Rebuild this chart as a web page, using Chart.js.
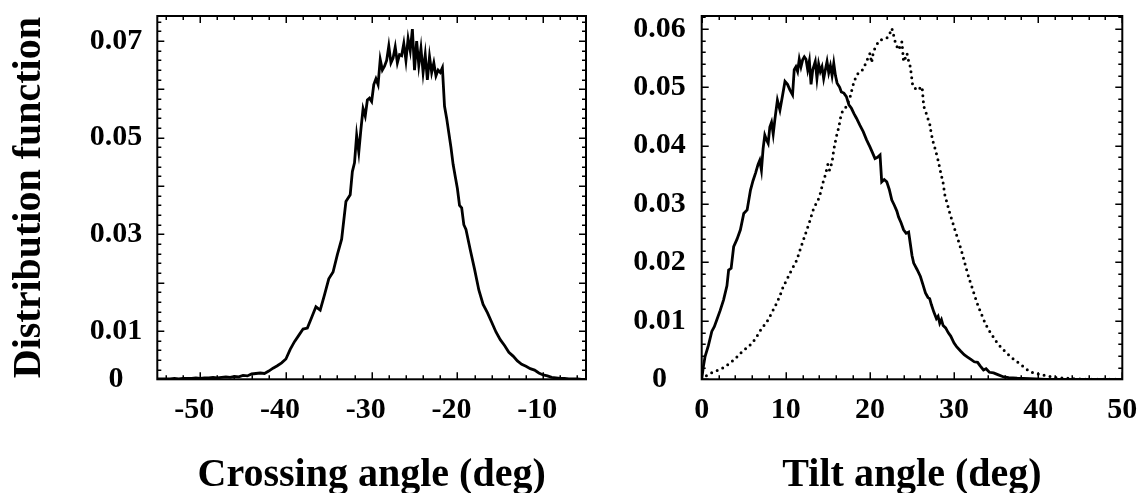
<!DOCTYPE html>
<html>
<head>
<meta charset="utf-8">
<script src="https://cdn.jsdelivr.net/npm/chart.js@4/dist/chart.umd.min.js"></script>
<style>
  html, body { margin: 0; padding: 0; background: #fff; }
  #wrap { position: relative; width: 1140px; height: 493px; overflow: hidden; }
  #left { position: absolute; left: 0; top: 0; }
  #right { position: absolute; left: 600px; top: 0; }
</style>
</head>
<body>
<div id="wrap">
  <canvas id="left" width="600" height="493"></canvas>
  <canvas id="right" width="540" height="493"></canvas>
</div>
<script>
// Crossing angle distribution (left panel)
const crossX = [
  -55, -54.5, -54, -53.5, -53, -52.5, -52, -51.5, -51, -50.5, -50, -49.5, -49, -48.5, -48, -47.5, -47, -46.5, -46, -45.5,
  -45, -44.5, -44, -43.5, -43, -42.5, -42, -41.5, -41, -40.5, -40, -39.5, -39, -38.5, -38, -37.5, -37, -36.5, -36, -35.5,
  -35, -34.5, -34, -33.5, -33, -32.5, -32.25, -32, -31.75, -31.5, -31.25, -31, -30.75, -30.5, -30.25, -30, -29.75, -29.5, -29.25, -29,
  -28.75, -28.5, -28.25, -28, -27.75, -27.5, -27.25, -27, -26.75, -26.5, -26.25, -26, -25.75, -25.5, -25.25, -25, -24.75, -24.5, -24.25, -24,
  -23.75, -23.5, -23.25, -23, -22.75, -22.5, -22.25, -22, -21.75, -21.5, -21.25, -21, -20.75, -20.5, -20.25, -20, -19.75, -19.5, -19.25, -19,
  -18.5, -18, -17.5, -17, -16.5, -16, -15.5, -15, -14.5, -14, -13.5, -13, -12.5, -12, -11.5, -11, -10.5, -10, -9.5, -9,
  -8.5, -8, -7.5, -7, -6.5, -6, -5.5, -5
];
const crossY = [
  0.0001, 0.0001, 0.0001, 0.0001, 0.0002, 0.0001, 0.0002, 0.0002, 0.0002, 0.0003, 0.0002, 0.0003, 0.0003, 0.0004, 0.0003, 0.0004, 0.0005, 0.0004, 0.0006, 0.0005,
  0.0008, 0.0007, 0.0011, 0.0012, 0.0013, 0.0012, 0.0017, 0.0023, 0.0028, 0.0034, 0.0042, 0.0062, 0.0078, 0.0091, 0.0104, 0.0106, 0.0128, 0.0150, 0.0143, 0.0175,
  0.0208, 0.0222, 0.0258, 0.0290, 0.0368, 0.0382, 0.0430, 0.0448, 0.0505, 0.0470, 0.0518, 0.0560, 0.0545, 0.0578, 0.0582, 0.0575, 0.0610, 0.0622, 0.0610, 0.0662,
  0.0640, 0.0648, 0.0660, 0.0690, 0.0655, 0.0665, 0.0688, 0.0655, 0.0672, 0.0670, 0.0695, 0.0660, 0.0705, 0.0680, 0.0725, 0.0640, 0.0700, 0.0650, 0.0685, 0.0635,
  0.0672, 0.0620, 0.0668, 0.0635, 0.0655, 0.0628, 0.0640, 0.0635, 0.0645, 0.0565, 0.0540, 0.0510, 0.0480, 0.0445, 0.0420, 0.0395, 0.0360, 0.0355, 0.0320, 0.0310,
  0.0268, 0.0228, 0.0185, 0.0155, 0.0138, 0.0118, 0.0098, 0.0082, 0.0070, 0.0056, 0.0048, 0.0038, 0.0031, 0.0027, 0.0022, 0.0019, 0.0013, 0.0009, 0.0007, 0.0004,
  0.0003, 0.0002, 0.0002, 0.0001, 0.0001, 0.0001, 0.0000, 0.0000
];

// Tilt angle distributions (right panel), solid and dotted
const tiltSolidX = [
  0, 0.2, 0.4, 0.8, 1.2, 1.5, 1.8, 2.2, 2.6, 3.0, 3.2, 3.5, 3.8, 4.2, 4.6, 5.0, 5.4, 5.8, 6.1, 6.4,
  6.7, 6.9, 7.1, 7.3, 7.5, 7.7, 7.9, 8.1, 8.3, 8.5, 8.7, 9.0, 9.3, 9.6, 9.9, 10.2, 10.5, 10.8, 11.0, 11.2,
  11.4, 11.6, 11.8, 12.0, 12.2, 12.4, 12.6, 12.8, 13.0, 13.2, 13.5, 13.7, 13.9, 14.1, 14.3, 14.5, 14.7, 14.9, 15.1, 15.3,
  15.5, 15.7, 15.9, 16.1, 16.4, 16.6, 16.9, 17.2, 17.5, 17.8, 18.1, 18.4, 18.8, 19.2, 19.6, 20.0, 20.3, 20.6, 20.9, 21.2,
  21.4, 21.7, 22.0, 22.3, 22.6, 22.9, 23.2, 23.4, 23.7, 24.0, 24.3, 24.6, 24.8, 25.0, 25.2, 25.6, 26.0, 26.3, 26.6, 26.9,
  27.1, 27.3, 27.6, 27.9, 28.1, 28.3, 28.5, 28.7, 29.0, 29.3, 29.6, 30.0, 30.3, 30.8, 31.2, 31.6, 32.0, 32.4, 32.8, 33.1,
  33.5, 33.8, 34.2, 34.7, 35.2, 35.9, 36.5, 37.5, 39, 41, 44, 47, 50
];
const tiltSolidY = [
  0, 0.0022, 0.0039, 0.0058, 0.0082, 0.0090, 0.0102, 0.0118, 0.0136, 0.0160, 0.0187, 0.0190, 0.0227, 0.0240, 0.0256, 0.0284, 0.0290, 0.0324, 0.0340, 0.0353,
  0.0368, 0.0375, 0.0358, 0.0395, 0.0418, 0.0410, 0.0404, 0.0432, 0.0440, 0.0420, 0.0445, 0.0478, 0.0461, 0.0485, 0.0510, 0.0505, 0.0495, 0.0487, 0.0530, 0.0535,
  0.0527, 0.0548, 0.0535, 0.0547, 0.0552, 0.0548, 0.0530, 0.0545, 0.0505, 0.0530, 0.0544, 0.0515, 0.0540, 0.0527, 0.0535, 0.0515, 0.0530, 0.0544, 0.0525, 0.0537,
  0.0520, 0.0541, 0.0520, 0.0507, 0.0500, 0.0492, 0.0490, 0.0484, 0.0470, 0.0464, 0.0455, 0.0447, 0.0435, 0.0424, 0.0410, 0.0398, 0.0388, 0.0378, 0.0380, 0.0384,
  0.0338, 0.0342, 0.0338, 0.0325, 0.0307, 0.0298, 0.0288, 0.0278, 0.0268, 0.0256, 0.0250, 0.0252, 0.0232, 0.0212, 0.0199, 0.0188, 0.0176, 0.0162, 0.0148, 0.0140,
  0.0138, 0.0128, 0.0115, 0.0104, 0.0108, 0.0096, 0.0102, 0.0092, 0.0088, 0.0080, 0.0074, 0.0062, 0.0056, 0.0048, 0.0042, 0.0038, 0.0034, 0.0030, 0.0029, 0.0023,
  0.0016, 0.0018, 0.0012, 0.0011, 0.0008, 0.0004, 0.0003, 0.0002, 0.0001, 0, 0, 0, 0
];
const tiltDotX = [
  0, 0.4, 0.9, 1.4, 2.0, 2.6, 3.2, 3.8, 4.4, 4.9, 5.4, 6.0, 6.5, 6.9, 7.4, 7.9, 8.4, 8.9, 9.3, 9.7,
  10.1, 10.5, 10.9, 11.3, 11.7, 12.1, 12.5, 12.9, 13.2, 13.5, 13.8, 14.1, 14.4, 14.7, 15.0, 15.2, 15.5, 15.7, 16.0, 16.3,
  16.6, 16.9, 17.2, 17.6, 18.0, 18.4, 18.7, 19.0, 19.3, 19.6, 19.8, 20.0, 20.2, 20.4, 20.6, 20.9, 21.2, 21.6, 22.0, 22.3,
  22.6, 22.8, 23.0, 23.2, 23.4, 23.6, 23.8, 24.0, 24.2, 24.4, 24.6, 24.8, 25.1, 25.4, 25.8, 26.0, 26.2, 26.4, 26.6, 26.8,
  27.1, 27.3, 27.5, 27.8, 28.1, 28.4, 28.7, 28.9, 29.2, 29.5, 29.8, 30.1, 30.5, 30.9, 31.2, 31.5, 31.8, 32.1, 32.5, 32.9,
  33.3, 33.7, 34.1, 34.5, 35.0, 35.5, 36.1, 36.7, 37.2, 37.8, 38.4, 39.0, 39.8, 40.6, 41.4, 42.2, 43.2, 44.2, 46, 48, 50
];
const tiltDotY = [
  0, 0.0005, 0.0009, 0.0013, 0.0016, 0.0020, 0.0026, 0.0033, 0.0041, 0.0049, 0.0054, 0.0062, 0.0072, 0.0082, 0.0092, 0.0102, 0.0116, 0.0130, 0.0143, 0.0159,
  0.0170, 0.0182, 0.0193, 0.0204, 0.0222, 0.0239, 0.0256, 0.0273, 0.0288, 0.0298, 0.0305, 0.0318, 0.0336, 0.0350, 0.0368, 0.0358, 0.0372, 0.0393, 0.0415, 0.0432,
  0.0455, 0.0462, 0.0467, 0.0481, 0.0504, 0.0521, 0.0525, 0.0527, 0.0535, 0.0544, 0.0552, 0.0558, 0.0542, 0.0560, 0.0567, 0.0575, 0.0581, 0.0582, 0.0584, 0.0590,
  0.0601, 0.0590, 0.0578, 0.0570, 0.0564, 0.0570, 0.0578, 0.0544, 0.0550, 0.0558, 0.0545, 0.0535, 0.0501, 0.0498, 0.0495, 0.0500, 0.0501, 0.0467, 0.0460, 0.0450,
  0.0438, 0.0420, 0.0407, 0.0392, 0.0375, 0.0355, 0.0336, 0.0316, 0.0300, 0.0284, 0.0270, 0.0256, 0.0238, 0.0219, 0.0203, 0.0187, 0.0172, 0.0159, 0.0141, 0.0124,
  0.0110, 0.0096, 0.0085, 0.0076, 0.0065, 0.0056, 0.0047, 0.0039, 0.0033, 0.0027, 0.0020, 0.0013, 0.0010, 0.0007, 0.0005, 0.0003, 0.0002, 0.0001, 0, 0, 0
];

// Tick labels
const crossXLabels = [-50, -40, -30, -20, -10];
const crossYLabels = [0, 0.01, 0.03, 0.05, 0.07];
const tiltXLabels = [0, 10, 20, 30, 40, 50];
const tiltYLabels = [0, 0.01, 0.02, 0.03, 0.04, 0.05, 0.06];

const FONT = "'Liberation Serif', 'Times New Roman', serif";

function toPoints(xs, ys) {
    return xs.map((x, i) => ({ x: x, y: ys[i] }));
}

// tick positions every minor step, every 5th one is a long tick
function minorTicks(scale, step) {
    const ticks = [];
    const k0 = Math.ceil(scale.min / step - 1e-6);
    const k1 = Math.floor(scale.max / step + 1e-6);
    for (let k = k0; k <= k1; k++) {
        ticks.push({ value: +(k * step).toFixed(4), long: k % 5 === 0 });
    }
    scale.ticks = ticks;
}

function hasLabel(list, v) {
    return list.some(l => Math.abs(l - v) < 1e-7);
}

// box around the plot with inward ticks on all four sides
const frameTicks = {
    id: 'frameTicks',
    afterDatasetsDraw(chart) {
        const { ctx, chartArea: a, scales: { x, y } } = chart;
        ctx.save();
        ctx.strokeStyle = '#000';
        ctx.lineWidth = 1.5;
        ctx.beginPath();
        x.ticks.forEach(t => {
            const px = Math.round(x.getPixelForValue(t.value)) + 0.25;
            const len = t.long ? 7 : 4;
            ctx.moveTo(px, a.bottom); ctx.lineTo(px, a.bottom - len);
            ctx.moveTo(px, a.top); ctx.lineTo(px, a.top + len);
        });
        y.ticks.forEach(t => {
            const py = Math.round(y.getPixelForValue(t.value)) + 0.25;
            const len = t.long ? 7 : 4;
            ctx.moveTo(a.left, py); ctx.lineTo(a.left + len, py);
            ctx.moveTo(a.right, py); ctx.lineTo(a.right - len, py);
        });
        ctx.stroke();
        ctx.lineWidth = 2;
        ctx.strokeRect(a.left, a.top, a.right - a.left, a.bottom - a.top);
        ctx.restore();
    }
};

function makePanel(canvasId, opts) {
    const ctx = document.getElementById(canvasId).getContext('2d');
    return new Chart(ctx, {
        type: 'line',
        data: { datasets: opts.datasets },
        options: {
            responsive: false,
            animation: false,
            events: [],
            layout: { padding: { left: 0, top: 16, right: opts.padRight, bottom: 0 } },
            elements: { point: { radius: 0 }, line: { tension: 0 } },
            plugins: { legend: { display: false }, tooltip: { enabled: false } },
            scales: {
                x: {
                    type: 'linear',
                    min: opts.xMin,
                    max: opts.xMax,
                    grid: { display: false },
                    border: { display: false },
                    afterBuildTicks: s => minorTicks(s, 2),
                    afterFit: s => {
                        s.height = 493 - 379.3;
                        s.paddingLeft = 0;
                        s.paddingRight = 0;
                    },
                    ticks: {
                        autoSkip: false,
                        maxRotation: 0,
                        minRotation: 0,
                        padding: 5,
                        labelOffset: opts.xLabelOffset,
                        color: '#000',
                        font: { family: FONT, size: 30, weight: 'bold' },
                        callback: v => hasLabel(opts.xLabels, v) ? String(v) : ''
                    },
                    title: {
                        display: true,
                        text: opts.xTitle,
                        color: '#000',
                        font: { family: FONT, size: 40, weight: 'bold', lineHeight: 1 },
                        padding: { top: 0, bottom: -3 }
                    }
                },
                y: {
                    type: 'linear',
                    min: 0,
                    max: opts.yMax,
                    grid: { display: false },
                    border: { display: false },
                    afterBuildTicks: s => minorTicks(s, 0.002),
                    afterFit: s => {
                        s.width = opts.yWidth;
                        s.paddingTop = 0;
                        s.paddingBottom = 0;
                    },
                    ticks: {
                        autoSkip: false,
                        crossAlign: 'center',
                        padding: opts.yLabelPad,
                        color: '#000',
                        font: { family: FONT, size: 30, weight: 'bold' },
                        callback: v => hasLabel(opts.yLabels, v) ? (v === 0 ? '0' : v.toFixed(2)) : ''
                    },
                    title: {
                        display: !!opts.yTitle,
                        text: opts.yTitle || '',
                        color: '#000',
                        font: { family: FONT, size: 40, weight: 'bold', lineHeight: 1 },
                        padding: { top: 10, bottom: 0 }
                    }
                }
            }
        },
        plugins: [frameTicks]
    });
}

makePanel('left', {
    xMin: -55, xMax: -5, yMax: 0.0752,
    padRight: 14, yWidth: 157.3, xLabelOffset: -6, yLabelPad: 7,
    xLabels: crossXLabels, yLabels: crossYLabels,
    xTitle: 'Crossing angle (deg)', yTitle: 'Distribution function',
    datasets: [{
        data: toPoints(crossX, crossY),
        borderColor: '#000',
        borderWidth: 2.8
    }]
});

makePanel('right', {
    xMin: 0, xMax: 50, yMax: 0.0622,
    padRight: 17.7, yWidth: 101.7, xLabelOffset: 0, yLabelPad: 8,
    xLabels: tiltXLabels, yLabels: tiltYLabels,
    xTitle: 'Tilt angle (deg)', yTitle: null,
    datasets: [{
        data: toPoints(tiltSolidX, tiltSolidY),
        borderColor: '#000',
        borderWidth: 2.8
    }, {
        data: toPoints(tiltDotX, tiltDotY),
        borderColor: '#000',
        borderWidth: 3,
        borderDash: [0, 6],
        borderCapStyle: 'round'
    }]
});
</script>
</body>
</html>
